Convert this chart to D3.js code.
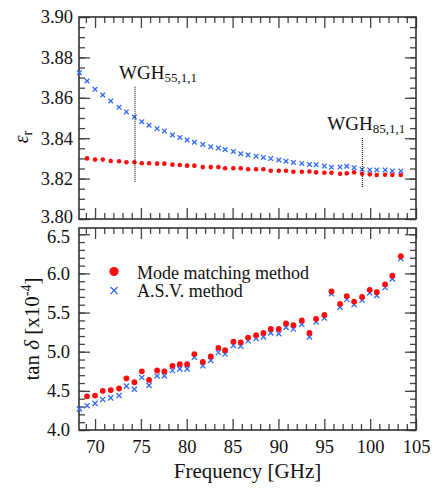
<!DOCTYPE html>
<html>
<head>
<meta charset="utf-8">
<script src="https://cdn.jsdelivr.net/npm/d3@7"></script>
<style>
  body { margin: 0; background: #fff; }
  svg text { font-family: "Liberation Serif", "Times New Roman", serif; fill: #111; }
</style>
</head>
<body>
<svg id="chart" width="435" height="492"></svg>
<script>
// frequencies [GHz] of the mode matching points
var freq = [69.13, 70.00, 70.84, 71.71, 72.62, 73.42, 74.29, 75.10, 75.89, 76.77,
  77.56, 78.44, 79.24, 80.04, 80.83, 81.75, 82.62, 83.45, 84.18, 85.09,
  85.89, 86.69, 87.56, 88.36, 89.16, 90.04, 90.83, 91.63, 92.55, 93.38,
  94.11, 95.01, 95.78, 96.72, 97.45, 98.25, 99.12, 99.96, 100.72, 101.63,
  102.42, 103.34];
// A.S.V. has one extra point at the low end
var freqASV = [68.29].concat(freq);

var epsMM = [3.8300, 3.8294, 3.8294, 3.8287, 3.8286, 3.8281, 3.8281, 3.8276, 3.8276, 3.8274,
  3.8274, 3.8269, 3.8267, 3.8264, 3.8264, 3.8257, 3.8257, 3.8257, 3.8251, 3.8251,
  3.8251, 3.8246, 3.8246, 3.8246, 3.8239, 3.8239, 3.8239, 3.8234, 3.8234, 3.8235,
  3.8231, 3.8229, 3.8229, 3.8224, 3.8226, 3.8231, 3.8224, 3.8221, 3.8218, 3.8219,
  3.8218, 3.8218];
var epsASV = [3.8724, 3.8683, 3.8642, 3.8614, 3.8584, 3.8553, 3.8530, 3.8505, 3.8482, 3.8464,
  3.8447, 3.8436, 3.8416, 3.8404, 3.8391, 3.8380, 3.8369, 3.8358, 3.8351, 3.8344,
  3.8334, 3.8323, 3.8317, 3.8311, 3.8305, 3.8299, 3.8292, 3.8286, 3.8280, 3.8275,
  3.8270, 3.8269, 3.8262, 3.8256, 3.8257, 3.8261, 3.8254, 3.8246, 3.8243, 3.8243,
  3.8243, 3.8238, 3.8238];

var tanMM = [4.43, 4.44, 4.50, 4.51, 4.53, 4.66, 4.61, 4.75, 4.64, 4.76,
  4.75, 4.82, 4.84, 4.84, 4.97, 4.87, 4.94, 5.05, 5.02, 5.13,
  5.12, 5.18, 5.21, 5.24, 5.29, 5.29, 5.36, 5.34, 5.40, 5.24,
  5.42, 5.47, 5.77, 5.61, 5.71, 5.64, 5.70, 5.79, 5.76, 5.86,
  5.97, 6.22];
var tanASV = [4.27, 4.31, 4.34, 4.39, 4.41, 4.44, 4.56, 4.52, 4.67, 4.57,
  4.69, 4.69, 4.76, 4.78, 4.78, 4.93, 4.82, 4.89, 4.99, 4.97,
  5.08, 5.07, 5.14, 5.17, 5.19, 5.24, 5.23, 5.31, 5.29, 5.35,
  5.19, 5.38, 5.43, 5.74, 5.57, 5.67, 5.60, 5.66, 5.75, 5.72,
  5.82, 5.93, 6.19];

// waveguide markers in the top panel
var wghNames = ["55,1,1", "85,1,1"];
var wghFreq = [74.36, 99.16];
var wghTop = [3.8655, 3.8401];
var wghBottom = [3.8180, 3.8155];
var wghLabelFreq = [72.62, 95.33];

var xTicks = [70, 75, 80, 85, 90, 95, 100, 105];
var epsTicks = [3.80, 3.82, 3.84, 3.86, 3.88, 3.90];
var tanTicks = [4.0, 4.5, 5.0, 5.5, 6.0, 6.5];

var RED = "#ff0a0a", BLUE = "#2f6bff", INK = "#333";

var svg = d3.select("#chart");
var left = 79, right = 416;

var x = d3.scaleLinear().domain([68.25, 105]).range([left, right]);
var yTop = d3.scaleLinear().domain([3.80, 3.90]).range([219, 17]);
var yBot = d3.scaleLinear().domain([4.0, 6.58]).range([430, 228]);

var minorX = d3.range(69, 105, 1).filter(function(v) { return v % 5 != 0; });

function frame(y, majorY, minorY, labelPad, fmt, showX) {
  var g = svg.append("g");
  var y0 = y.range()[0], y1 = y.range()[1];

  // bottom and top x ticks
  var xb = d3.axisBottom(x).tickValues(xTicks).tickSize(-11).tickPadding(9.5)
    .tickFormat(showX ? d3.format("d") : "");
  g.append("g").attr("transform", "translate(0," + y0 + ")").call(xb);
  g.append("g").attr("transform", "translate(0," + y0 + ")")
    .call(d3.axisBottom(x).tickValues(minorX).tickSize(-6).tickFormat(""));
  g.append("g").attr("transform", "translate(0," + y1 + ")")
    .call(d3.axisTop(x).tickValues(xTicks).tickSize(-11).tickFormat(""));
  g.append("g").attr("transform", "translate(0," + y1 + ")")
    .call(d3.axisTop(x).tickValues(minorX).tickSize(-6).tickFormat(""));

  // left and right y ticks
  g.append("g").attr("transform", "translate(" + left + ",0)")
    .call(d3.axisLeft(y).tickValues(majorY).tickSize(-11).tickPadding(labelPad).tickFormat(fmt));
  g.append("g").attr("transform", "translate(" + left + ",0)")
    .call(d3.axisLeft(y).tickValues(minorY).tickSize(-6).tickFormat(""));
  g.append("g").attr("transform", "translate(" + right + ",0)")
    .call(d3.axisRight(y).tickValues(majorY).tickSize(-11).tickFormat(""));
  g.append("g").attr("transform", "translate(" + right + ",0)")
    .call(d3.axisRight(y).tickValues(minorY).tickSize(-6).tickFormat(""));

  g.selectAll(".domain").remove();
  g.selectAll(".tick line").attr("stroke", "#444").attr("stroke-width", 1.3);
  g.selectAll(".tick text").style("font-size", "18.5px")
    .style("font-family", "'Liberation Serif', serif").attr("fill", "#111");

  g.append("rect")
    .attr("x", left).attr("y", y1)
    .attr("width", right - left).attr("height", y0 - y1)
    .attr("fill", "none").attr("stroke", INK).attr("stroke-width", 1.6);
}

// minor y values
var epsMinor = [], tanMinor = [];
for (var i = 0; i <= 20; i++) epsMinor.push(3.80 + i * 0.005);
for (var j = 0; j <= 25; j++) tanMinor.push(4.0 + j * 0.1);

frame(yTop, epsTicks, epsMinor, 6, d3.format(".2f"), false);
frame(yBot, tanTicks, tanMinor, 9, d3.format(".1f"), true);

// the 3.80 and 6.5 labels sit close together, nudge them apart a little
svg.selectAll(".tick text").filter(function(d) { return d === 3.80; }).attr("dy", "0.18em");
svg.selectAll(".tick text").filter(function(d) { return d === 6.5; }).attr("dy", "0.42em");

// cross marker helper
function crosses(g, xs, ys, yScale, h, w) {
  g.selectAll(null).data(xs).enter().append("path")
    .attr("d", function(d, i) {
      var cx = x(d), cy = yScale(ys[i]);
      return "M" + (cx - h) + "," + (cy - h) + "L" + (cx + h) + "," + (cy + h) +
        "M" + (cx - h) + "," + (cy + h) + "L" + (cx + h) + "," + (cy - h);
    })
    .attr("stroke", BLUE).attr("stroke-width", w).attr("fill", "none");
}

// top panel: permittivity
var gTop = svg.append("g");
crosses(gTop, freqASV, epsASV, yTop, 2.3, 1.3);
gTop.selectAll(".mm").data(freq).enter().append("circle")
  .attr("cx", function(d) { return x(d); })
  .attr("cy", function(d, i) { return yTop(epsMM[i]); })
  .attr("r", 2.3).attr("fill", RED);

// WGH markers
wghFreq.forEach(function(f, i) {
  gTop.append("line")
    .attr("x1", x(f)).attr("x2", x(f))
    .attr("y1", yTop(wghTop[i])).attr("y2", yTop(wghBottom[i]))
    .attr("stroke", "#222").attr("stroke-width", 1.2).attr("stroke-dasharray", "1,1");
  var t = gTop.append("text")
    .attr("x", x(wghLabelFreq[i])).attr("y", yTop(wghTop[i]) - 8)
    .style("font-size", "19px");
  t.append("tspan").text("WGH");
  t.append("tspan").attr("dy", 3).style("font-size", "13px").text(wghNames[i]);
});

// bottom panel: loss tangent
var gBot = svg.append("g");
crosses(gBot, freqASV, tanASV, yBot, 2.6, 1.3);
gBot.selectAll(".mm").data(freq).enter().append("circle")
  .attr("cx", function(d) { return x(d); })
  .attr("cy", function(d, i) { return yBot(tanMM[i]); })
  .attr("r", 2.9).attr("fill", RED);

// legend
var leg = svg.append("g");
leg.append("circle").attr("cx", 114).attr("cy", 271.5).attr("r", 4.6).attr("fill", RED);
leg.append("path").attr("d", "M110.5,287L117.5,294M110.5,294L117.5,287")
  .attr("stroke", BLUE).attr("stroke-width", 1.2);
leg.append("text").attr("x", 137).attr("y", 278.5).style("font-size", "18px")
  .text("Mode matching method");
leg.append("text").attr("x", 137).attr("y", 296.5).style("font-size", "18px")
  .text("A.S.V. method");

// axis titles
svg.append("text").attr("x", (left + right) / 2).attr("y", 478)
  .attr("text-anchor", "middle").style("font-size", "21px")
  .text("Frequency [GHz]");

var epsLab = svg.append("text")
  .attr("transform", "translate(28,137) rotate(-90)")
  .attr("text-anchor", "middle").style("font-size", "20px");
epsLab.append("tspan").style("font-style", "italic").text("ε");
epsLab.append("tspan").attr("dy", 4).style("font-size", "14px").text("r");

var tanLab = svg.append("text")
  .attr("transform", "translate(39,329) rotate(-90)")
  .attr("text-anchor", "middle").style("font-size", "21px");
tanLab.append("tspan").text("tan ");
tanLab.append("tspan").style("font-style", "italic").text("δ");
tanLab.append("tspan").text(" [x10");
tanLab.append("tspan").attr("dy", -8).style("font-size", "14px").text("-4");
tanLab.append("tspan").attr("dy", 8).text("]");
</script>
</body>
</html>
